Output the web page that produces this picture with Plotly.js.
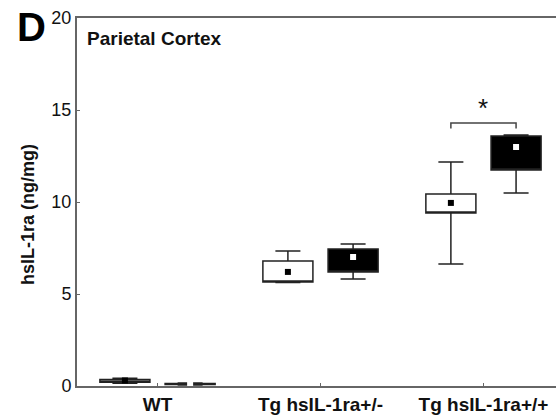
<!DOCTYPE html>
<html>
<head>
<meta charset="utf-8">
<script src="https://cdn.plot.ly/plotly-3.0.1.min.js"></script>
<style>html,body{margin:0;padding:0;background:#fff}#chart{width:556px;height:419px}</style>
</head>
<body>
<div id="chart"></div>
<script>
// Data (hsIL-1ra, ng/mg)
const groups = ["WT", "Tg hsIL-1ra+/-", "Tg hsIL-1ra+/+"];
const tickLabels = ["WT", "Tg hsIL-1ra+/-", "Tg hsIL-1ra+/+"];
const yTicks = [0, 5, 10, 15, 20];

// First box in each group (white box, black mean marker)
const whiteLower = [0.15, 5.62, 6.63];
const whiteQ1    = [0.20, 5.65, 9.40];
const whiteQ3    = [0.35, 6.79, 10.43];
const whiteUpper = [0.42, 7.34, 12.17];
const whiteMean  = [0.30, 6.20, 9.95];

// Second box in each group (black box, white mean marker)
const blackLower = [0.05, 5.82, 10.49];
const blackQ1    = [0.08, 6.20, 11.74];
const blackQ3    = [0.14, 7.45, 13.59];
const blackUpper = [0.16, 7.72, 13.64];
const blackMean  = [0.11, 7.01, 12.99];

const OFFSET = 0.2, BOXW = 0.307;
const idx = groups.map((_, i) => i);
const xw = idx.map(i => i - OFFSET);
const xb = idx.map(i => i + OFFSET);

const lineCol = '#222';
const traces = [
  {type: 'box', x: xw, q1: whiteQ1, median: whiteQ1, q3: whiteQ3,
   lowerfence: whiteLower, upperfence: whiteUpper, width: BOXW, whiskerwidth: 0.5,
   fillcolor: '#ffffff', line: {color: lineCol, width: 1.5}, hoverinfo: 'skip', showlegend: false},
  {type: 'box', x: xb, q1: blackQ1, median: blackQ1, q3: blackQ3,
   lowerfence: blackLower, upperfence: blackUpper, width: BOXW, whiskerwidth: 0.5,
   fillcolor: '#000000', line: {color: lineCol, width: 1.5}, hoverinfo: 'skip', showlegend: false},
  {type: 'scatter', mode: 'markers', x: xw, y: whiteMean,
   marker: {symbol: 'square', size: 6, color: '#000'}, showlegend: false, hoverinfo: 'skip', cliponaxis: false},
  {type: 'scatter', mode: 'markers', x: xb, y: blackMean,
   marker: {symbol: 'square', size: 6, color: '#fff'}, showlegend: false, hoverinfo: 'skip', cliponaxis: false}
];

const FONT = '"Liberation Sans", Arial, Helvetica, sans-serif';
const L = 77, PW = 479, T = 18, PH = 368;
const px = v => (v - L) / PW;
const py = v => 1 - (v - T) / PH;

const layout = {
  width: 556, height: 419,
  margin: {l: L, r: 0, t: T, b: 419 - T - PH, pad: 0},
  paper_bgcolor: '#fff', plot_bgcolor: '#fff',
  font: {family: FONT, color: '#111'},
  showlegend: false,
  boxmode: 'overlay',
  xaxis: {
    range: [-0.494, 2.445], tickvals: idx, ticktext: tickLabels,
    showgrid: false, zeroline: false, showline: true, mirror: true,
    linecolor: '#666', linewidth: 2, ticks: 'inside', ticklen: 3, tickcolor: '#666',
    tickfont: {family: FONT, size: 19, color: '#111', weight: 'bold'}
  },
  yaxis: {
    range: [0, 20], tickvals: yTicks, ticktext: yTicks.map(String),
    showgrid: false, zeroline: false, showline: true,
    linecolor: '#666', linewidth: 2, ticks: 'inside', ticklen: 3, tickcolor: '#666',
    tickfont: {family: FONT, size: 18, color: '#111'}
  },
  shapes: [
    {type: 'path', xref: 'x', yref: 'y', path: 'M 1.8 14.0 L 1.8 14.3 L 2.2 14.3 L 2.2 14.0',
     line: {color: '#444', width: 1.5}}
  ],
  annotations: [
    {text: '*', xref: 'x', yref: 'y', x: 2.0, y: 15.1, showarrow: false,
     font: {family: FONT, size: 26, color: '#111'}, xanchor: 'center', yanchor: 'middle'},
    {text: '<b>D</b>', xref: 'paper', yref: 'paper', x: px(15), y: py(27), showarrow: false,
     font: {family: FONT, size: 40, color: '#000'}, xanchor: 'left', yanchor: 'middle'},
    {text: '<b>Parietal Cortex</b>', xref: 'paper', yref: 'paper', x: px(85), y: py(39), showarrow: false,
     font: {family: FONT, size: 19, color: '#111'}, xanchor: 'left', yanchor: 'middle'},
    {text: '<b>hsIL-1ra (ng/mg)</b>', xref: 'paper', yref: 'paper', x: px(28), y: py(215), showarrow: false,
     textangle: -90, font: {family: FONT, size: 18, color: '#111'}, xanchor: 'center', yanchor: 'middle'}
  ]
};

Plotly.newPlot('chart', traces, layout, {displayModeBar: false, staticPlot: true});
</script>
</body>
</html>
